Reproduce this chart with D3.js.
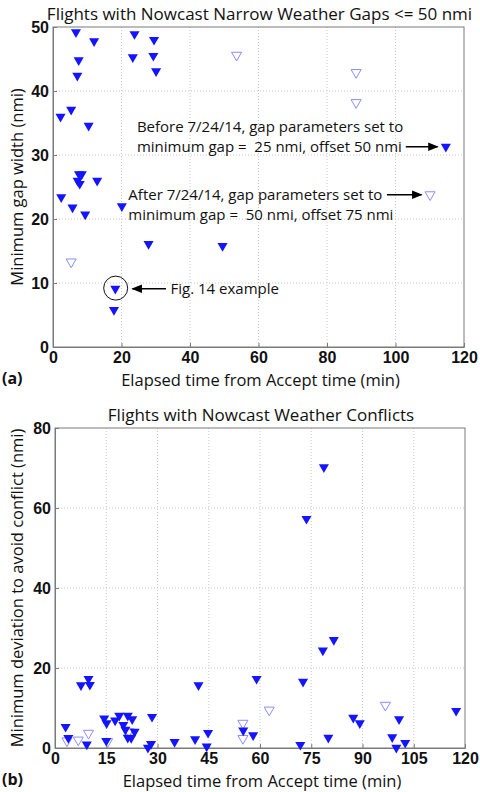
<!DOCTYPE html>
<html>
<head>
<meta charset="utf-8">
<script src="https://cdn.jsdelivr.net/npm/d3@7"></script>
<style>
	body { margin: 0; background: #fff; }
	svg { display: block; }
</style>
</head>
<body>
<div id="chart"></div>
<script>
// Panel (a): narrow weather gaps, [elapsed min, gap nmi]
const gapsBefore = [
	[6.7, 49.2], [12.0, 47.8], [7.5, 44.8], [7.1, 42.4], [23.8, 48.9], [29.5, 48.0],
	[23.3, 45.3], [29.3, 45.5], [30.1, 43.1], [2.2, 36.0], [5.3, 37.1], [10.4, 34.6],
	[7.6, 27.0], [8.4, 27.0], [7.2, 26.0], [7.8, 25.5], [12.9, 26.0], [2.4, 23.4],
	[5.7, 21.8], [9.4, 20.7], [20.1, 22.0], [27.9, 16.1], [49.5, 15.8], [18.2, 9.1],
	[17.8, 5.8], [114.7, 31.3]
];
const gapsAfter = [
	[5.3, 13.3], [53.6, 45.6], [88.5, 42.9], [88.5, 38.2], [110.1, 23.8]
];
const gapXTicks = [0, 20, 40, 60, 80, 100, 120];
const gapYTicks = [0, 10, 20, 30, 40, 50];

// Panel (b): weather conflicts, [elapsed min, deviation nmi]
const conflictsBefore = [
	[3.1, 5.3], [3.9, 2.5], [7.6, 15.7], [9.8, 17.3], [10.2, 15.8], [9.3, 0.9],
	[14.4, 7.4], [15.1, 6.2], [15.0, 1.8], [17.6, 6.9], [18.8, 8.1], [21.3, 8.1],
	[22.6, 7.2], [20.0, 5.8], [20.6, 4.6], [23.3, 4.1], [21.3, 2.6], [22.3, 2.5],
	[28.4, 7.8], [28.1, 1.0], [27.2, 0.1], [35.0, 1.5], [41.0, 2.2], [42.0, 15.7],
	[44.8, 3.8], [44.4, 0.4], [55.1, 4.4], [58.0, 3.2], [59.0, 17.3], [72.6, 16.6],
	[73.6, 57.3], [78.7, 70.2], [78.4, 24.4], [81.6, 27.0], [71.8, 0.8], [80.0, 2.6],
	[87.3, 7.6], [89.2, 6.2], [98.7, 2.7], [99.9, 0.1], [100.7, 7.2], [102.5, 1.3],
	[117.4, 9.3]
];
const conflictsAfter = [
	[3.5, 1.8], [6.8, 2.0], [9.8, 3.7], [15.4, 1.6], [21.6, 4.1],
	[55.0, 6.2], [55.0, 2.4], [62.7, 9.5], [96.7, 10.7]
];
const confXTicks = [0, 15, 30, 45, 60, 75, 90, 105, 120];
const confYTicks = [0, 20, 40, 60, 80];

const W = 480, H = 792;
const fill = '#1414ff';
const hollow = '#8c8cff';
const textFont = '"Open Sans", Lato, sans-serif';
const tickFont = '"Liberation Sans", Arial, sans-serif';

const svg = d3.select('#chart').append('svg')
	.attr('width', W).attr('height', H);

svg.append('defs').append('marker')
	.attr('id', 'arrow')
	.attr('viewBox', '0 0 10 10')
	.attr('refX', 9).attr('refY', 5)
	.attr('markerWidth', 7).attr('markerHeight', 7)
	.attr('orient', 'auto')
	.append('path').attr('d', 'M0,1 L10,5 L0,9 Z').attr('fill', '#000');

const tri = d3.symbol().type(d3.symbolTriangle).size(44);

function drawPanel(opt) {
	const x = d3.scaleLinear().domain([0, 120]).range([opt.left, opt.right]);
	const y = d3.scaleLinear().domain(opt.yDomain).range([opt.bottom, opt.top]);
	const g = svg.append('g');

	// dotted grid
	g.append('g').selectAll('line').data(opt.xTicks.slice(1, -1)).join('line')
		.attr('x1', (d) => x(d)).attr('x2', (d) => x(d))
		.attr('y1', opt.top).attr('y2', opt.bottom)
		.attr('stroke', '#c8c8c8').attr('stroke-width', 1).attr('stroke-dasharray', '1,2');
	g.append('g').selectAll('line').data(opt.yTicks.slice(1, -1)).join('line')
		.attr('x1', opt.left).attr('x2', opt.right)
		.attr('y1', (d) => y(d)).attr('y2', (d) => y(d))
		.attr('stroke', '#c8c8c8').attr('stroke-width', 1).attr('stroke-dasharray', '1,2');

	// axes with inward ticks
	const xAxis = d3.axisBottom(x).tickValues(opt.xTicks).tickSize(-4).tickPadding(5).tickSizeOuter(0);
	const yAxis = d3.axisLeft(y).tickValues(opt.yTicks).tickSize(-4).tickPadding(4).tickSizeOuter(0);
	const ax = g.append('g').attr('transform', `translate(0,${opt.bottom})`).call(xAxis);
	const ay = g.append('g').attr('transform', `translate(${opt.left},0)`).call(yAxis);
	[ax, ay].forEach((a) => {
		a.selectAll('.domain').attr('stroke', '#7a7a7a');
		a.selectAll('.tick line').attr('stroke', '#7a7a7a');
		a.selectAll('text')
			.style('font-family', tickFont)
			.style('font-weight', 'bold')
			.style('font-size', '16px')
			.attr('fill', '#111');
	});

	// box frame top/right
	g.append('rect')
		.attr('x', opt.left).attr('y', opt.top)
		.attr('width', opt.right - opt.left).attr('height', opt.bottom - opt.top)
		.attr('fill', 'none').attr('stroke', '#7a7a7a').attr('stroke-width', 1);

	// markers: after (hollow) first, then before (filled)
	g.append('g').selectAll('path').data(opt.after).join('path')
		.attr('d', tri)
		.attr('transform', (d) => `translate(${x(d[0])},${y(d[1])}) rotate(180)`)
		.attr('fill', 'none').attr('stroke', hollow).attr('stroke-width', 1);
	g.append('g').selectAll('path').data(opt.before).join('path')
		.attr('d', tri)
		.attr('transform', (d) => `translate(${x(d[0])},${y(d[1])}) rotate(180)`)
		.attr('fill', fill);

	// title and labels
	svg.append('text')
		.attr('x', (opt.left + opt.right) / 2 + 1).attr('y', opt.top - 7)
		.attr('text-anchor', 'middle')
		.style('font-family', textFont).style('font-size', '17px')
		.attr('fill', '#111')
		.text(opt.title);
	svg.append('text')
		.attr('transform', `translate(23,${(opt.top + opt.bottom) / 2}) rotate(-90)`)
		.attr('text-anchor', 'middle')
		.style('font-family', textFont).style('font-size', '16.5px')
		.attr('fill', '#111')
		.text(opt.yLabel);
	svg.append('text')
		.attr('x', (opt.left + opt.right) / 2 + 2).attr('y', opt.bottom + 39)
		.attr('text-anchor', 'middle')
		.style('font-family', textFont).style('font-size', '16.5px')
		.attr('fill', '#111')
		.text('Elapsed time from Accept time (min)');
	svg.append('text')
		.attr('x', 2).attr('y', opt.bottom + 37)
		.style('font-family', textFont).style('font-size', '16px').style('font-weight', 'bold')
		.attr('fill', '#111')
		.text(opt.tag);

	return { x, y, g };
}

const a = drawPanel({
	left: 53, right: 464, top: 27, bottom: 347,
	yDomain: [0, 50], xTicks: gapXTicks, yTicks: gapYTicks,
	before: gapsBefore, after: gapsAfter,
	title: 'Flights with Nowcast Narrow Weather Gaps <= 50 nmi',
	yLabel: 'Minimum gap width (nmi)', tag: '(a)'
});

const b = drawPanel({
	left: 55, right: 465, top: 428, bottom: 748,
	yDomain: [0, 80], xTicks: confXTicks, yTicks: confYTicks,
	before: conflictsBefore, after: conflictsAfter,
	title: 'Flights with Nowcast Weather Conflicts',
	yLabel: 'Minimum deviation to avoid conflict (nmi)', tag: '(b)'
});

// annotations on panel (a)
function note(lines, xv, yv, dy) {
	const t = a.g.append('text')
		.style('font-family', textFont).style('font-size', '15px')
		.style('white-space', 'pre')
		.attr('fill', '#111');
	lines.forEach((l, i) => {
		t.append('tspan').attr('x', a.x(xv)).attr('y', a.y(yv) + i * dy).text(l);
	});
}
function arrow(x1, y1, x2, y2) {
	a.g.append('line')
		.attr('x1', a.x(x1)).attr('y1', a.y(y1))
		.attr('x2', a.x(x2)).attr('y2', a.y(y2))
		.attr('stroke', '#000').attr('stroke-width', 1.5)
		.attr('marker-end', 'url(#arrow)');
}

note(['Before 7/24/14, gap parameters set to', 'minimum gap =  25 nmi, offset 50 nmi'], 24.5, 33.6, 20);
arrow(103.0, 31.3, 112.3, 31.3);
note(['After 7/24/14, gap parameters set to', 'minimum gap =  50 nmi, offset 75 nmi'], 22, 23.0, 20);
arrow(97.5, 23.8, 107.6, 23.8);
note(['Fig. 14 example'], 34.3, 8.3, 0);
arrow(33.0, 9.1, 23.2, 9.1);
a.g.append('circle')
	.attr('cx', a.x(18.3)).attr('cy', a.y(9.2))
	.attr('r', 12)
	.attr('fill', 'none').attr('stroke', '#111').attr('stroke-width', 1);
</script>
</body>
</html>
